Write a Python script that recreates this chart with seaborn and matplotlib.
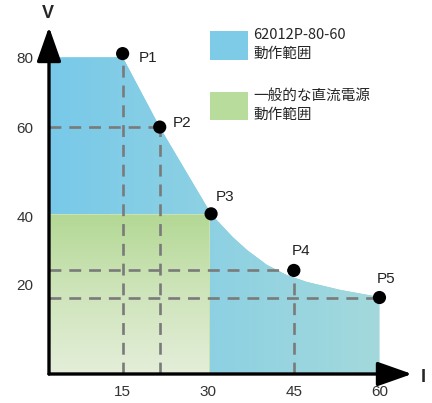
import numpy as np
import pandas as pd
import seaborn as sns
import matplotlib.pyplot as plt
from matplotlib.patches import Patch
from matplotlib.colors import LinearSegmentedColormap

# operating points (I [A], V [V])
point_names = ["P1", "P2", "P3", "P4", "P5"]
point_i = [15, 21.5, 30.5, 45, 60]
point_v = [81, 60, 40.5, 24, 17]

# upper edge of the 62012P-80-60 operating area
edge_i = [15, 21.5, 30.5, 31.5, 34.3, 36.8, 40.3, 43.8, 47.3, 53.1, 60]
edge_v = [80, 60, 40.5, 38.8, 33.8, 30.0, 25.6, 22.6, 20.6, 18.7, 17.1]

# ordinary DC supply: rectangle up to these limits
dc_i_max = 30.3
dc_v_max = 40.4

x_ticks = [15, 30, 45, 60]
y_ticks = [20, 40, 60, 80]
legend_labels = ["62012P-80-60\n動作範囲", "一般的な直流電源\n動作範囲"]

# the drawing's voltage axis is not evenly spaced: piecewise scale
v_anchor = np.array([0, 20, 40, 60, 80, 100])
d_anchor = np.array([0, 90, 158, 247, 317, 387])


def fwd(v):
    return np.interp(v, v_anchor, d_anchor)


def inv(d):
    return np.interp(d, d_anchor, v_anchor)


sns.set_theme(style="white")
plt.rcParams['font.family'] = ['Liberation Sans', 'Noto Sans CJK JP', 'DejaVu Sans']

fig = plt.figure(figsize=(4.32, 4.03), dpi=100)
W, H = 432, 403
ax = fig.add_axes([49 / W, (H - 374) / H, (412 - 49) / W, (374 - 27) / H])
ax.set_yscale('function', functions=(fwd, inv))
x0, x1 = 2.1, 65.7
ax.set_xlim(x0, x1)
ax.set_ylim(0, 88.6)
for s in ax.spines.values():
    s.set_visible(False)

# blue area, with a left-to-right gradient
blue_x = [x0, x0] + edge_i + [edge_i[-1]]
blue_y = [0, 80] + edge_v + [0]
blue_poly = ax.fill(blue_x, blue_y, color="#86cfe6", lw=0, zorder=1)[0]
blue_cmap = LinearSegmentedColormap.from_list("b", ["#78c9e9", "#a3d9dc"])
im = ax.imshow(np.linspace(0, 1, 256)[None, :], cmap=blue_cmap, aspect='auto',
               extent=[x0, edge_i[-1], 0, 80], zorder=2, interpolation='bilinear')
im.set_clip_path(blue_poly)

# green area, with a top-to-bottom gradient
green_poly = ax.fill([x0, x0, dc_i_max, dc_i_max], [0, dc_v_max, dc_v_max, 0],
                     color="#c8e2b4", lw=0, zorder=3)[0]
green_cmap = LinearSegmentedColormap.from_list("g", ["#b3d894", "#e4eed9"])
im2 = ax.imshow(np.linspace(0, 1, 256)[:, None], cmap=green_cmap, aspect='auto',
                extent=[x0, dc_i_max, 0, dc_v_max], zorder=4, interpolation='bilinear')
im2.set_clip_path(green_poly)

# dashed guide lines
dash = dict(color="#7a7a7a", lw=1.9, ls=(0, (4.5, 3)), zorder=5)
for k in [0, 1, 3]:
    ax.plot([point_i[k], point_i[k]], [0, point_v[k]], **dash)
for k in [1, 3, 4]:
    ax.plot([x0, point_i[k]], [point_v[k], point_v[k]], **dash)

pts = pd.DataFrame({"I": point_i, "V": point_v, "name": point_names})
sns.scatterplot(data=pts, x="I", y="V", color="black", s=90, edgecolor="none",
                zorder=6, ax=ax, legend=False)

# label offsets in points (left edge, vertical centre)
offsets = {"P1": (11.5, -3), "P2": (9.4, 3), "P3": (3, 12),
           "P4": (-1.4, 14), "P5": (-2, 13)}
for name, i, v in zip(point_names, point_i, point_v):
    ax.annotate(name, (i, v), xytext=offsets[name], textcoords="offset points",
                fontsize=11, color="#222222", ha="left", va="center", zorder=7)

ax.set_xticks(x_ticks)
ax.set_yticks(y_ticks)
ax.set_xticklabels([str(t) for t in x_ticks])
ax.set_yticklabels([str(t) for t in y_ticks])
ax.tick_params(axis="both", length=0, labelsize=11, labelcolor="#333333")
ax.tick_params(axis="x", pad=8)
ax.tick_params(axis="y", pad=11)
ax.set_xlabel("")
ax.set_ylabel("")
ax.minorticks_off()

# axis arrows
arrow = dict(arrowstyle="-|>,head_length=0.85,head_width=0.3", lw=2.4, color="black",
             shrinkA=0, shrinkB=0, mutation_scale=25)
ax.annotate("", xy=(0, 1), xytext=(0, 0), xycoords="axes fraction", arrowprops=arrow,
            zorder=8, annotation_clip=False)
ax.annotate("", xy=(1, 0), xytext=(0, 0), xycoords="axes fraction", arrowprops=arrow,
            zorder=8, annotation_clip=False)
fig.text(48 / W, 1 - 14 / H, "V", ha="center", va="center", fontsize=13, fontweight="bold")
fig.text(423 / W, 1 - 377 / H, "I", ha="center", va="center", fontsize=13, fontweight="bold")

handles = [Patch(facecolor="#7ecbe8", edgecolor="none"),
           Patch(facecolor="#b8dc9c", edgecolor="none")]
leg = fig.legend(handles, legend_labels, loc="upper left", bbox_to_anchor=(210 / W, 1 - 28 / H),
                 frameon=False, borderpad=0, borderaxespad=0, handlelength=2.6, handleheight=2.6,
                 handletextpad=0.35, labelspacing=1.9,
                 prop={"family": ["Noto Sans CJK JP"], "size": 10.5})
for t in leg.get_texts():
    t.set_linespacing(1.45)

fig.savefig("out.png", dpi=100)
